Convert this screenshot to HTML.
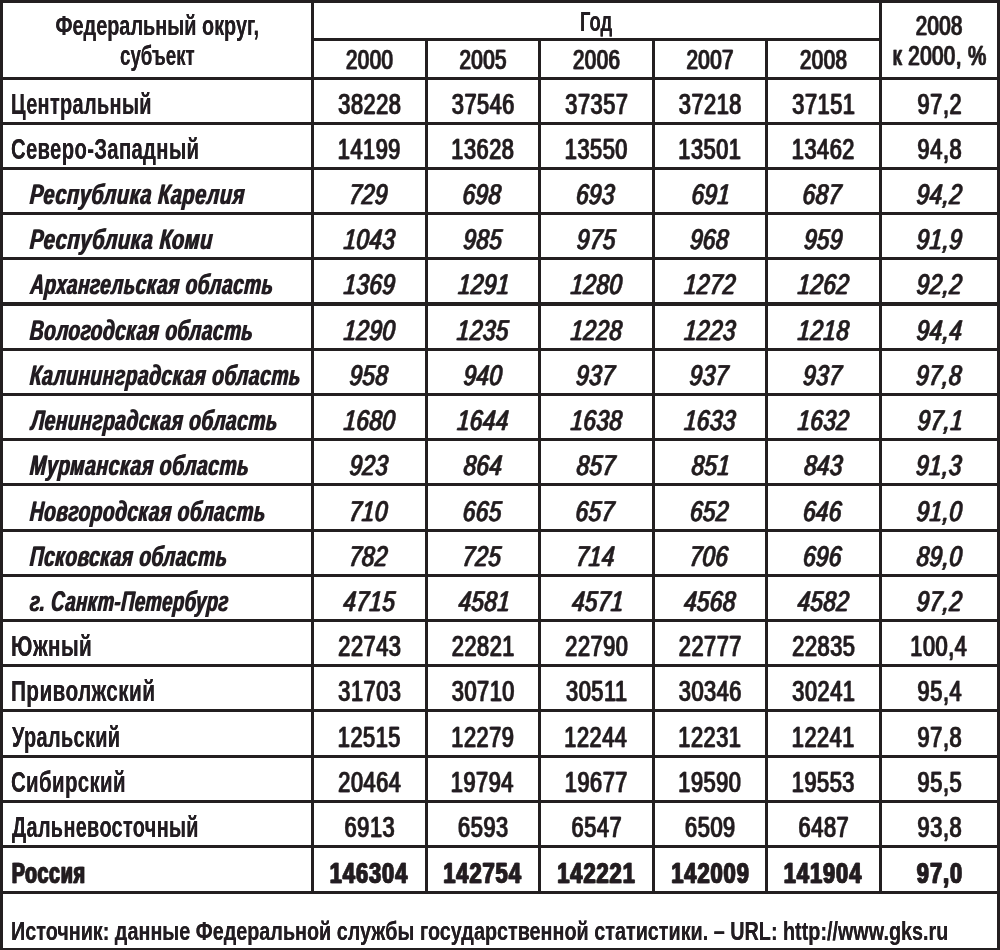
<!DOCTYPE html>
<html lang="ru"><head><meta charset="utf-8"><title>Численность населения по федеральным округам</title>
<style>html,body{margin:0;padding:0;background:#fff;width:1000px;height:950px;overflow:hidden}svg{display:block}</style>
</head><body>
<svg width="1000" height="950" viewBox="0 0 1000 950">
<g fill="#231f20">
<rect x="0" y="0" width="1000" height="3"/>
<rect x="0" y="0" width="3" height="950"/>
<rect x="997" y="0" width="3" height="950"/>
<rect x="0" y="948" width="1000" height="2"/>
<rect x="0" y="77" width="1000" height="3"/>
<rect x="0" y="122" width="1000" height="3"/>
<rect x="0" y="167" width="1000" height="3"/>
<rect x="0" y="212" width="1000" height="3"/>
<rect x="0" y="257" width="1000" height="3"/>
<rect x="0" y="302" width="1000" height="4"/>
<rect x="0" y="348" width="1000" height="3"/>
<rect x="0" y="393" width="1000" height="3"/>
<rect x="0" y="438" width="1000" height="3"/>
<rect x="0" y="483" width="1000" height="3"/>
<rect x="0" y="529" width="1000" height="3"/>
<rect x="0" y="574" width="1000" height="3"/>
<rect x="0" y="619" width="1000" height="3"/>
<rect x="0" y="664" width="1000" height="3"/>
<rect x="0" y="709" width="1000" height="3"/>
<rect x="0" y="755" width="1000" height="3"/>
<rect x="0" y="800" width="1000" height="3"/>
<rect x="0" y="845" width="1000" height="3"/>
<rect x="0" y="891" width="1000" height="3"/>
<rect x="311" y="0" width="3" height="894"/>
<rect x="425" y="38" width="3" height="856"/>
<rect x="538" y="38" width="3" height="856"/>
<rect x="652" y="38" width="3" height="856"/>
<rect x="765" y="38" width="3" height="856"/>
<rect x="879" y="0" width="3" height="894"/>
<rect x="311" y="38" width="570" height="3"/>
</g>
<g fill="#231f20" font-family='"Liberation Sans", sans-serif'>
<defs><filter id="th" x="-5%" y="-20%" width="110%" height="140%"><feOffset in="SourceGraphic" dx="0.3" dy="0" result="o"/><feMerge><feMergeNode in="SourceGraphic"/><feMergeNode in="o"/></feMerge></filter><filter id="thn" x="-5%" y="-20%" width="110%" height="140%"><feOffset in="SourceGraphic" dx="1.0" dy="0" result="o"/><feMerge><feMergeNode in="SourceGraphic"/><feMergeNode in="o"/></feMerge></filter><filter id="tnl" x="-5%" y="-20%" width="110%" height="140%"><feOffset in="SourceGraphic" dx="0.4" dy="0" result="o"/><feMerge><feMergeNode in="SourceGraphic"/><feMergeNode in="o"/></feMerge></filter><filter id="tnn" x="-5%" y="-20%" width="110%" height="140%"><feOffset in="SourceGraphic" dx="0.8" dy="0" result="o"/><feMerge><feMergeNode in="SourceGraphic"/><feMergeNode in="o"/></feMerge></filter><filter id="til" x="-5%" y="-20%" width="110%" height="140%"><feOffset in="SourceGraphic" dx="0.6" dy="0" result="o"/><feMerge><feMergeNode in="SourceGraphic"/><feMergeNode in="o"/></feMerge></filter><filter id="tinn" x="-5%" y="-20%" width="110%" height="140%"><feOffset in="SourceGraphic" dx="1.0" dy="0" result="o"/><feMerge><feMergeNode in="SourceGraphic"/><feMergeNode in="o"/></feMerge></filter><filter id="tbl" x="-5%" y="-20%" width="110%" height="140%"><feOffset in="SourceGraphic" dx="0.9" dy="0" result="o"/><feMerge><feMergeNode in="SourceGraphic"/><feMergeNode in="o"/></feMerge></filter><filter id="tbn" x="-5%" y="-20%" width="110%" height="140%"><feOffset in="SourceGraphic" dx="0.9" dy="0" result="o"/><feMerge><feMergeNode in="SourceGraphic"/><feMergeNode in="o"/></feMerge></filter><filter id="tf" x="-5%" y="-20%" width="110%" height="140%"><feOffset in="SourceGraphic" dx="0.3" dy="0" result="o"/><feMerge><feMergeNode in="SourceGraphic"/><feMergeNode in="o"/></feMerge></filter></defs>
<g filter="url(#th)">
<text transform="translate(55.50 34.70) scale(0.7369 1)" font-size="27" font-weight="bold" font-style="normal">Федеральный округ,</text>
<text transform="translate(120.00 64.80) scale(0.6931 1)" font-size="27" font-weight="bold" font-style="normal">субъект</text>
<text transform="translate(580.00 30.50) scale(0.6826 1)" font-size="27" font-weight="bold" font-style="normal">Год</text>
</g>
<g filter="url(#thn)">
<text transform="translate(345.49 68.80) scale(0.7600 1)" font-size="27" font-weight="normal" font-style="normal" letter-spacing="0.6" stroke="#231f20" stroke-width="0.5" stroke-linejoin="round">2000</text>
<text transform="translate(458.99 68.80) scale(0.7600 1)" font-size="27" font-weight="normal" font-style="normal" letter-spacing="0.6" stroke="#231f20" stroke-width="0.5" stroke-linejoin="round">2005</text>
<text transform="translate(572.49 68.80) scale(0.7600 1)" font-size="27" font-weight="normal" font-style="normal" letter-spacing="0.6" stroke="#231f20" stroke-width="0.5" stroke-linejoin="round">2006</text>
<text transform="translate(685.99 68.80) scale(0.7600 1)" font-size="27" font-weight="normal" font-style="normal" letter-spacing="0.6" stroke="#231f20" stroke-width="0.5" stroke-linejoin="round">2007</text>
<text transform="translate(799.49 68.80) scale(0.7600 1)" font-size="27" font-weight="normal" font-style="normal" letter-spacing="0.6" stroke="#231f20" stroke-width="0.5" stroke-linejoin="round">2008</text>
<text transform="translate(915.18 35.00) scale(0.7539 1)" font-size="27" font-weight="normal" font-style="normal" letter-spacing="0.6" stroke="#231f20" stroke-width="0.5" stroke-linejoin="round">2008</text>
<text transform="translate(892.19 64.80) scale(0.7600 1)" font-size="27" font-weight="normal" font-style="normal" letter-spacing="0.6" stroke="#231f20" stroke-width="0.5" stroke-linejoin="round">к 2000, %</text>
</g>
<g filter="url(#tnl)">
<text transform="translate(11.00 113.70) scale(0.6761 1)" font-size="29.5" font-weight="bold" font-style="normal" letter-spacing="0.5">Центральный</text>
<text transform="translate(11.00 158.50) scale(0.6873 1)" font-size="29.5" font-weight="bold" font-style="normal" letter-spacing="0.5">Северо-Западный</text>
<text transform="translate(11.00 655.60) scale(0.7028 1)" font-size="29.5" font-weight="bold" font-style="normal" letter-spacing="0.5">Южный</text>
<text transform="translate(11.00 700.60) scale(0.7062 1)" font-size="29.5" font-weight="bold" font-style="normal" letter-spacing="0.5">Приволжский</text>
<text transform="translate(12.00 746.60) scale(0.6760 1)" font-size="29.5" font-weight="bold" font-style="normal" letter-spacing="0.5">Уральский</text>
<text transform="translate(11.00 791.60) scale(0.6938 1)" font-size="29.5" font-weight="bold" font-style="normal" letter-spacing="0.5">Сибирский</text>
<text transform="translate(12.00 836.80) scale(0.6739 1)" font-size="29.5" font-weight="bold" font-style="normal" letter-spacing="0.5">Дальневосточный</text>
</g>
<g filter="url(#tnn)">
<text transform="translate(337.77 113.70) scale(0.7400 1)" font-size="29.3" font-weight="normal" font-style="normal" letter-spacing="0.8" stroke="#231f20" stroke-width="0.4" stroke-linejoin="round">38228</text>
<text transform="translate(451.27 113.70) scale(0.7400 1)" font-size="29.3" font-weight="normal" font-style="normal" letter-spacing="0.8" stroke="#231f20" stroke-width="0.4" stroke-linejoin="round">37546</text>
<text transform="translate(564.77 113.70) scale(0.7400 1)" font-size="29.3" font-weight="normal" font-style="normal" letter-spacing="0.8" stroke="#231f20" stroke-width="0.4" stroke-linejoin="round">37357</text>
<text transform="translate(678.27 113.70) scale(0.7400 1)" font-size="29.3" font-weight="normal" font-style="normal" letter-spacing="0.8" stroke="#231f20" stroke-width="0.4" stroke-linejoin="round">37218</text>
<text transform="translate(791.77 113.70) scale(0.7400 1)" font-size="29.3" font-weight="normal" font-style="normal" letter-spacing="0.8" stroke="#231f20" stroke-width="0.4" stroke-linejoin="round">37151</text>
<text transform="translate(917.12 113.70) scale(0.7400 1)" font-size="29.3" font-weight="normal" font-style="normal" letter-spacing="0.8" stroke="#231f20" stroke-width="0.4" stroke-linejoin="round">97,2</text>
<text transform="translate(337.27 158.50) scale(0.7400 1)" font-size="29.3" font-weight="normal" font-style="normal" letter-spacing="0.8" stroke="#231f20" stroke-width="0.4" stroke-linejoin="round">14199</text>
<text transform="translate(450.77 158.50) scale(0.7400 1)" font-size="29.3" font-weight="normal" font-style="normal" letter-spacing="0.8" stroke="#231f20" stroke-width="0.4" stroke-linejoin="round">13628</text>
<text transform="translate(564.27 158.50) scale(0.7400 1)" font-size="29.3" font-weight="normal" font-style="normal" letter-spacing="0.8" stroke="#231f20" stroke-width="0.4" stroke-linejoin="round">13550</text>
<text transform="translate(677.77 158.50) scale(0.7400 1)" font-size="29.3" font-weight="normal" font-style="normal" letter-spacing="0.8" stroke="#231f20" stroke-width="0.4" stroke-linejoin="round">13501</text>
<text transform="translate(791.27 158.50) scale(0.7400 1)" font-size="29.3" font-weight="normal" font-style="normal" letter-spacing="0.8" stroke="#231f20" stroke-width="0.4" stroke-linejoin="round">13462</text>
<text transform="translate(917.12 158.50) scale(0.7400 1)" font-size="29.3" font-weight="normal" font-style="normal" letter-spacing="0.8" stroke="#231f20" stroke-width="0.4" stroke-linejoin="round">94,8</text>
<text transform="translate(337.77 655.60) scale(0.7400 1)" font-size="29.3" font-weight="normal" font-style="normal" letter-spacing="0.8" stroke="#231f20" stroke-width="0.4" stroke-linejoin="round">22743</text>
<text transform="translate(451.27 655.60) scale(0.7400 1)" font-size="29.3" font-weight="normal" font-style="normal" letter-spacing="0.8" stroke="#231f20" stroke-width="0.4" stroke-linejoin="round">22821</text>
<text transform="translate(564.77 655.60) scale(0.7400 1)" font-size="29.3" font-weight="normal" font-style="normal" letter-spacing="0.8" stroke="#231f20" stroke-width="0.4" stroke-linejoin="round">22790</text>
<text transform="translate(678.27 655.60) scale(0.7400 1)" font-size="29.3" font-weight="normal" font-style="normal" letter-spacing="0.8" stroke="#231f20" stroke-width="0.4" stroke-linejoin="round">22777</text>
<text transform="translate(791.77 655.60) scale(0.7400 1)" font-size="29.3" font-weight="normal" font-style="normal" letter-spacing="0.8" stroke="#231f20" stroke-width="0.4" stroke-linejoin="round">22835</text>
<text transform="translate(909.79 655.60) scale(0.7400 1)" font-size="29.3" font-weight="normal" font-style="normal" letter-spacing="0.8" stroke="#231f20" stroke-width="0.4" stroke-linejoin="round">100,4</text>
<text transform="translate(337.77 700.60) scale(0.7400 1)" font-size="29.3" font-weight="normal" font-style="normal" letter-spacing="0.8" stroke="#231f20" stroke-width="0.4" stroke-linejoin="round">31703</text>
<text transform="translate(451.27 700.60) scale(0.7400 1)" font-size="29.3" font-weight="normal" font-style="normal" letter-spacing="0.8" stroke="#231f20" stroke-width="0.4" stroke-linejoin="round">30710</text>
<text transform="translate(565.57 700.60) scale(0.7400 1)" font-size="29.3" font-weight="normal" font-style="normal" letter-spacing="0.8" stroke="#231f20" stroke-width="0.4" stroke-linejoin="round">30511</text>
<text transform="translate(678.27 700.60) scale(0.7400 1)" font-size="29.3" font-weight="normal" font-style="normal" letter-spacing="0.8" stroke="#231f20" stroke-width="0.4" stroke-linejoin="round">30346</text>
<text transform="translate(791.77 700.60) scale(0.7400 1)" font-size="29.3" font-weight="normal" font-style="normal" letter-spacing="0.8" stroke="#231f20" stroke-width="0.4" stroke-linejoin="round">30241</text>
<text transform="translate(917.12 700.60) scale(0.7400 1)" font-size="29.3" font-weight="normal" font-style="normal" letter-spacing="0.8" stroke="#231f20" stroke-width="0.4" stroke-linejoin="round">95,4</text>
<text transform="translate(337.27 746.60) scale(0.7400 1)" font-size="29.3" font-weight="normal" font-style="normal" letter-spacing="0.8" stroke="#231f20" stroke-width="0.4" stroke-linejoin="round">12515</text>
<text transform="translate(450.77 746.60) scale(0.7400 1)" font-size="29.3" font-weight="normal" font-style="normal" letter-spacing="0.8" stroke="#231f20" stroke-width="0.4" stroke-linejoin="round">12279</text>
<text transform="translate(563.77 746.60) scale(0.7400 1)" font-size="29.3" font-weight="normal" font-style="normal" letter-spacing="0.8" stroke="#231f20" stroke-width="0.4" stroke-linejoin="round">12244</text>
<text transform="translate(677.77 746.60) scale(0.7400 1)" font-size="29.3" font-weight="normal" font-style="normal" letter-spacing="0.8" stroke="#231f20" stroke-width="0.4" stroke-linejoin="round">12231</text>
<text transform="translate(791.27 746.60) scale(0.7400 1)" font-size="29.3" font-weight="normal" font-style="normal" letter-spacing="0.8" stroke="#231f20" stroke-width="0.4" stroke-linejoin="round">12241</text>
<text transform="translate(917.12 746.60) scale(0.7400 1)" font-size="29.3" font-weight="normal" font-style="normal" letter-spacing="0.8" stroke="#231f20" stroke-width="0.4" stroke-linejoin="round">97,8</text>
<text transform="translate(337.77 791.60) scale(0.7400 1)" font-size="29.3" font-weight="normal" font-style="normal" letter-spacing="0.8" stroke="#231f20" stroke-width="0.4" stroke-linejoin="round">20464</text>
<text transform="translate(450.27 791.60) scale(0.7400 1)" font-size="29.3" font-weight="normal" font-style="normal" letter-spacing="0.8" stroke="#231f20" stroke-width="0.4" stroke-linejoin="round">19794</text>
<text transform="translate(564.27 791.60) scale(0.7400 1)" font-size="29.3" font-weight="normal" font-style="normal" letter-spacing="0.8" stroke="#231f20" stroke-width="0.4" stroke-linejoin="round">19677</text>
<text transform="translate(677.77 791.60) scale(0.7400 1)" font-size="29.3" font-weight="normal" font-style="normal" letter-spacing="0.8" stroke="#231f20" stroke-width="0.4" stroke-linejoin="round">19590</text>
<text transform="translate(791.27 791.60) scale(0.7400 1)" font-size="29.3" font-weight="normal" font-style="normal" letter-spacing="0.8" stroke="#231f20" stroke-width="0.4" stroke-linejoin="round">19553</text>
<text transform="translate(917.12 791.60) scale(0.7400 1)" font-size="29.3" font-weight="normal" font-style="normal" letter-spacing="0.8" stroke="#231f20" stroke-width="0.4" stroke-linejoin="round">95,5</text>
<text transform="translate(344.09 836.80) scale(0.7400 1)" font-size="29.3" font-weight="normal" font-style="normal" letter-spacing="0.8" stroke="#231f20" stroke-width="0.4" stroke-linejoin="round">6913</text>
<text transform="translate(457.59 836.80) scale(0.7400 1)" font-size="29.3" font-weight="normal" font-style="normal" letter-spacing="0.8" stroke="#231f20" stroke-width="0.4" stroke-linejoin="round">6593</text>
<text transform="translate(571.09 836.80) scale(0.7400 1)" font-size="29.3" font-weight="normal" font-style="normal" letter-spacing="0.8" stroke="#231f20" stroke-width="0.4" stroke-linejoin="round">6547</text>
<text transform="translate(684.59 836.80) scale(0.7400 1)" font-size="29.3" font-weight="normal" font-style="normal" letter-spacing="0.8" stroke="#231f20" stroke-width="0.4" stroke-linejoin="round">6509</text>
<text transform="translate(798.09 836.80) scale(0.7400 1)" font-size="29.3" font-weight="normal" font-style="normal" letter-spacing="0.8" stroke="#231f20" stroke-width="0.4" stroke-linejoin="round">6487</text>
<text transform="translate(917.12 836.80) scale(0.7400 1)" font-size="29.3" font-weight="normal" font-style="normal" letter-spacing="0.8" stroke="#231f20" stroke-width="0.4" stroke-linejoin="round">93,8</text>
</g>
<g filter="url(#til)">
<text transform="translate(29.00 203.70) skewX(-4) scale(0.6970 1)" font-size="28.5" font-weight="bold" font-style="italic" letter-spacing="0.8">Республика Карелия</text>
<text transform="translate(29.00 248.60) skewX(-4) scale(0.7052 1)" font-size="28.5" font-weight="bold" font-style="italic" letter-spacing="0.8">Республика Коми</text>
<text transform="translate(29.40 294.10) skewX(-4) scale(0.6652 1)" font-size="28.5" font-weight="bold" font-style="italic" letter-spacing="0.8">Архангельская область</text>
<text transform="translate(29.00 339.60) skewX(-4) scale(0.6672 1)" font-size="28.5" font-weight="bold" font-style="italic" letter-spacing="0.8">Вологодская область</text>
<text transform="translate(29.00 384.80) skewX(-4) scale(0.6730 1)" font-size="28.5" font-weight="bold" font-style="italic" letter-spacing="0.8">Калининградская область</text>
<text transform="translate(30.16 429.50) skewX(-4) scale(0.6714 1)" font-size="28.5" font-weight="bold" font-style="italic" letter-spacing="0.8">Ленинградская область</text>
<text transform="translate(29.00 474.70) skewX(-4) scale(0.6795 1)" font-size="28.5" font-weight="bold" font-style="italic" letter-spacing="0.8">Мурманская область</text>
<text transform="translate(29.00 520.50) skewX(-4) scale(0.6684 1)" font-size="28.5" font-weight="bold" font-style="italic" letter-spacing="0.8">Новгородская область</text>
<text transform="translate(29.00 565.70) skewX(-4) scale(0.6677 1)" font-size="28.5" font-weight="bold" font-style="italic" letter-spacing="0.8">Псковская область</text>
<text transform="translate(29.00 610.60) skewX(-4) scale(0.6447 1)" font-size="28.5" font-weight="bold" font-style="italic" letter-spacing="0.8">г. Санкт-Петербург</text>
</g>
<g filter="url(#tinn)">
<text transform="translate(348.14 203.70) skewX(-4) scale(0.7800 1)" font-size="28.5" font-weight="normal" font-style="italic" letter-spacing="0.8" stroke="#231f20" stroke-width="0.5" stroke-linejoin="round">729</text>
<text transform="translate(461.64 203.70) skewX(-4) scale(0.7800 1)" font-size="28.5" font-weight="normal" font-style="italic" letter-spacing="0.8" stroke="#231f20" stroke-width="0.5" stroke-linejoin="round">698</text>
<text transform="translate(575.14 203.70) skewX(-4) scale(0.7800 1)" font-size="28.5" font-weight="normal" font-style="italic" letter-spacing="0.8" stroke="#231f20" stroke-width="0.5" stroke-linejoin="round">693</text>
<text transform="translate(690.64 203.70) skewX(-4) scale(0.7800 1)" font-size="28.5" font-weight="normal" font-style="italic" letter-spacing="0.8" stroke="#231f20" stroke-width="0.5" stroke-linejoin="round">691</text>
<text transform="translate(801.79 203.70) skewX(-4) scale(0.7800 1)" font-size="28.5" font-weight="normal" font-style="italic" letter-spacing="0.8" stroke="#231f20" stroke-width="0.5" stroke-linejoin="round">687</text>
<text transform="translate(915.74 203.70) skewX(-4) scale(0.7800 1)" font-size="28.5" font-weight="normal" font-style="italic" letter-spacing="0.8" stroke="#231f20" stroke-width="0.5" stroke-linejoin="round">94,2</text>
<text transform="translate(342.64 248.60) skewX(-4) scale(0.7800 1)" font-size="28.5" font-weight="normal" font-style="italic" letter-spacing="0.8" stroke="#231f20" stroke-width="0.5" stroke-linejoin="round">1043</text>
<text transform="translate(462.61 248.60) skewX(-4) scale(0.7800 1)" font-size="28.5" font-weight="normal" font-style="italic" letter-spacing="0.8" stroke="#231f20" stroke-width="0.5" stroke-linejoin="round">985</text>
<text transform="translate(576.11 248.60) skewX(-4) scale(0.7800 1)" font-size="28.5" font-weight="normal" font-style="italic" letter-spacing="0.8" stroke="#231f20" stroke-width="0.5" stroke-linejoin="round">975</text>
<text transform="translate(689.14 248.60) skewX(-4) scale(0.7800 1)" font-size="28.5" font-weight="normal" font-style="italic" letter-spacing="0.8" stroke="#231f20" stroke-width="0.5" stroke-linejoin="round">968</text>
<text transform="translate(803.14 248.60) skewX(-4) scale(0.7800 1)" font-size="28.5" font-weight="normal" font-style="italic" letter-spacing="0.8" stroke="#231f20" stroke-width="0.5" stroke-linejoin="round">959</text>
<text transform="translate(915.74 248.60) skewX(-4) scale(0.7800 1)" font-size="28.5" font-weight="normal" font-style="italic" letter-spacing="0.8" stroke="#231f20" stroke-width="0.5" stroke-linejoin="round">91,9</text>
<text transform="translate(342.64 294.10) skewX(-4) scale(0.7800 1)" font-size="28.5" font-weight="normal" font-style="italic" letter-spacing="0.8" stroke="#231f20" stroke-width="0.5" stroke-linejoin="round">1369</text>
<text transform="translate(457.14 294.10) skewX(-4) scale(0.7800 1)" font-size="28.5" font-weight="normal" font-style="italic" letter-spacing="0.8" stroke="#231f20" stroke-width="0.5" stroke-linejoin="round">1291</text>
<text transform="translate(569.64 294.10) skewX(-4) scale(0.7800 1)" font-size="28.5" font-weight="normal" font-style="italic" letter-spacing="0.8" stroke="#231f20" stroke-width="0.5" stroke-linejoin="round">1280</text>
<text transform="translate(683.14 294.10) skewX(-4) scale(0.7800 1)" font-size="28.5" font-weight="normal" font-style="italic" letter-spacing="0.8" stroke="#231f20" stroke-width="0.5" stroke-linejoin="round">1272</text>
<text transform="translate(796.64 294.10) skewX(-4) scale(0.7800 1)" font-size="28.5" font-weight="normal" font-style="italic" letter-spacing="0.8" stroke="#231f20" stroke-width="0.5" stroke-linejoin="round">1262</text>
<text transform="translate(915.74 294.10) skewX(-4) scale(0.7800 1)" font-size="28.5" font-weight="normal" font-style="italic" letter-spacing="0.8" stroke="#231f20" stroke-width="0.5" stroke-linejoin="round">92,2</text>
<text transform="translate(342.64 339.60) skewX(-4) scale(0.7800 1)" font-size="28.5" font-weight="normal" font-style="italic" letter-spacing="0.8" stroke="#231f20" stroke-width="0.5" stroke-linejoin="round">1290</text>
<text transform="translate(456.11 339.60) skewX(-4) scale(0.7800 1)" font-size="28.5" font-weight="normal" font-style="italic" letter-spacing="0.8" stroke="#231f20" stroke-width="0.5" stroke-linejoin="round">1235</text>
<text transform="translate(569.64 339.60) skewX(-4) scale(0.7800 1)" font-size="28.5" font-weight="normal" font-style="italic" letter-spacing="0.8" stroke="#231f20" stroke-width="0.5" stroke-linejoin="round">1228</text>
<text transform="translate(683.14 339.60) skewX(-4) scale(0.7800 1)" font-size="28.5" font-weight="normal" font-style="italic" letter-spacing="0.8" stroke="#231f20" stroke-width="0.5" stroke-linejoin="round">1223</text>
<text transform="translate(796.64 339.60) skewX(-4) scale(0.7800 1)" font-size="28.5" font-weight="normal" font-style="italic" letter-spacing="0.8" stroke="#231f20" stroke-width="0.5" stroke-linejoin="round">1218</text>
<text transform="translate(915.74 339.60) skewX(-4) scale(0.7800 1)" font-size="28.5" font-weight="normal" font-style="italic" letter-spacing="0.8" stroke="#231f20" stroke-width="0.5" stroke-linejoin="round">94,4</text>
<text transform="translate(348.64 384.80) skewX(-4) scale(0.7800 1)" font-size="28.5" font-weight="normal" font-style="italic" letter-spacing="0.8" stroke="#231f20" stroke-width="0.5" stroke-linejoin="round">958</text>
<text transform="translate(462.64 384.80) skewX(-4) scale(0.7800 1)" font-size="28.5" font-weight="normal" font-style="italic" letter-spacing="0.8" stroke="#231f20" stroke-width="0.5" stroke-linejoin="round">940</text>
<text transform="translate(575.29 384.80) skewX(-4) scale(0.7800 1)" font-size="28.5" font-weight="normal" font-style="italic" letter-spacing="0.8" stroke="#231f20" stroke-width="0.5" stroke-linejoin="round">937</text>
<text transform="translate(688.79 384.80) skewX(-4) scale(0.7800 1)" font-size="28.5" font-weight="normal" font-style="italic" letter-spacing="0.8" stroke="#231f20" stroke-width="0.5" stroke-linejoin="round">937</text>
<text transform="translate(802.29 384.80) skewX(-4) scale(0.7800 1)" font-size="28.5" font-weight="normal" font-style="italic" letter-spacing="0.8" stroke="#231f20" stroke-width="0.5" stroke-linejoin="round">937</text>
<text transform="translate(915.24 384.80) skewX(-4) scale(0.7800 1)" font-size="28.5" font-weight="normal" font-style="italic" letter-spacing="0.8" stroke="#231f20" stroke-width="0.5" stroke-linejoin="round">97,8</text>
<text transform="translate(342.64 429.50) skewX(-4) scale(0.7800 1)" font-size="28.5" font-weight="normal" font-style="italic" letter-spacing="0.8" stroke="#231f20" stroke-width="0.5" stroke-linejoin="round">1680</text>
<text transform="translate(456.14 429.50) skewX(-4) scale(0.7800 1)" font-size="28.5" font-weight="normal" font-style="italic" letter-spacing="0.8" stroke="#231f20" stroke-width="0.5" stroke-linejoin="round">1644</text>
<text transform="translate(569.64 429.50) skewX(-4) scale(0.7800 1)" font-size="28.5" font-weight="normal" font-style="italic" letter-spacing="0.8" stroke="#231f20" stroke-width="0.5" stroke-linejoin="round">1638</text>
<text transform="translate(683.14 429.50) skewX(-4) scale(0.7800 1)" font-size="28.5" font-weight="normal" font-style="italic" letter-spacing="0.8" stroke="#231f20" stroke-width="0.5" stroke-linejoin="round">1633</text>
<text transform="translate(796.64 429.50) skewX(-4) scale(0.7800 1)" font-size="28.5" font-weight="normal" font-style="italic" letter-spacing="0.8" stroke="#231f20" stroke-width="0.5" stroke-linejoin="round">1632</text>
<text transform="translate(916.74 429.50) skewX(-4) scale(0.7800 1)" font-size="28.5" font-weight="normal" font-style="italic" letter-spacing="0.8" stroke="#231f20" stroke-width="0.5" stroke-linejoin="round">97,1</text>
<text transform="translate(348.64 474.70) skewX(-4) scale(0.7800 1)" font-size="28.5" font-weight="normal" font-style="italic" letter-spacing="0.8" stroke="#231f20" stroke-width="0.5" stroke-linejoin="round">923</text>
<text transform="translate(462.64 474.70) skewX(-4) scale(0.7800 1)" font-size="28.5" font-weight="normal" font-style="italic" letter-spacing="0.8" stroke="#231f20" stroke-width="0.5" stroke-linejoin="round">864</text>
<text transform="translate(575.79 474.70) skewX(-4) scale(0.7800 1)" font-size="28.5" font-weight="normal" font-style="italic" letter-spacing="0.8" stroke="#231f20" stroke-width="0.5" stroke-linejoin="round">857</text>
<text transform="translate(690.64 474.70) skewX(-4) scale(0.7800 1)" font-size="28.5" font-weight="normal" font-style="italic" letter-spacing="0.8" stroke="#231f20" stroke-width="0.5" stroke-linejoin="round">851</text>
<text transform="translate(803.14 474.70) skewX(-4) scale(0.7800 1)" font-size="28.5" font-weight="normal" font-style="italic" letter-spacing="0.8" stroke="#231f20" stroke-width="0.5" stroke-linejoin="round">843</text>
<text transform="translate(915.24 474.70) skewX(-4) scale(0.7800 1)" font-size="28.5" font-weight="normal" font-style="italic" letter-spacing="0.8" stroke="#231f20" stroke-width="0.5" stroke-linejoin="round">91,3</text>
<text transform="translate(348.14 520.50) skewX(-4) scale(0.7800 1)" font-size="28.5" font-weight="normal" font-style="italic" letter-spacing="0.8" stroke="#231f20" stroke-width="0.5" stroke-linejoin="round">710</text>
<text transform="translate(462.11 520.50) skewX(-4) scale(0.7800 1)" font-size="28.5" font-weight="normal" font-style="italic" letter-spacing="0.8" stroke="#231f20" stroke-width="0.5" stroke-linejoin="round">665</text>
<text transform="translate(574.79 520.50) skewX(-4) scale(0.7800 1)" font-size="28.5" font-weight="normal" font-style="italic" letter-spacing="0.8" stroke="#231f20" stroke-width="0.5" stroke-linejoin="round">657</text>
<text transform="translate(689.14 520.50) skewX(-4) scale(0.7800 1)" font-size="28.5" font-weight="normal" font-style="italic" letter-spacing="0.8" stroke="#231f20" stroke-width="0.5" stroke-linejoin="round">652</text>
<text transform="translate(802.13 520.50) skewX(-4) scale(0.7800 1)" font-size="28.5" font-weight="normal" font-style="italic" letter-spacing="0.8" stroke="#231f20" stroke-width="0.5" stroke-linejoin="round">646</text>
<text transform="translate(915.74 520.50) skewX(-4) scale(0.7800 1)" font-size="28.5" font-weight="normal" font-style="italic" letter-spacing="0.8" stroke="#231f20" stroke-width="0.5" stroke-linejoin="round">91,0</text>
<text transform="translate(348.14 565.70) skewX(-4) scale(0.7800 1)" font-size="28.5" font-weight="normal" font-style="italic" letter-spacing="0.8" stroke="#231f20" stroke-width="0.5" stroke-linejoin="round">782</text>
<text transform="translate(461.61 565.70) skewX(-4) scale(0.7800 1)" font-size="28.5" font-weight="normal" font-style="italic" letter-spacing="0.8" stroke="#231f20" stroke-width="0.5" stroke-linejoin="round">725</text>
<text transform="translate(575.14 565.70) skewX(-4) scale(0.7800 1)" font-size="28.5" font-weight="normal" font-style="italic" letter-spacing="0.8" stroke="#231f20" stroke-width="0.5" stroke-linejoin="round">714</text>
<text transform="translate(688.63 565.70) skewX(-4) scale(0.7800 1)" font-size="28.5" font-weight="normal" font-style="italic" letter-spacing="0.8" stroke="#231f20" stroke-width="0.5" stroke-linejoin="round">706</text>
<text transform="translate(802.13 565.70) skewX(-4) scale(0.7800 1)" font-size="28.5" font-weight="normal" font-style="italic" letter-spacing="0.8" stroke="#231f20" stroke-width="0.5" stroke-linejoin="round">696</text>
<text transform="translate(915.74 565.70) skewX(-4) scale(0.7800 1)" font-size="28.5" font-weight="normal" font-style="italic" letter-spacing="0.8" stroke="#231f20" stroke-width="0.5" stroke-linejoin="round">89,0</text>
<text transform="translate(342.61 610.60) skewX(-4) scale(0.7800 1)" font-size="28.5" font-weight="normal" font-style="italic" letter-spacing="0.8" stroke="#231f20" stroke-width="0.5" stroke-linejoin="round">4715</text>
<text transform="translate(457.64 610.60) skewX(-4) scale(0.7800 1)" font-size="28.5" font-weight="normal" font-style="italic" letter-spacing="0.8" stroke="#231f20" stroke-width="0.5" stroke-linejoin="round">4581</text>
<text transform="translate(571.14 610.60) skewX(-4) scale(0.7800 1)" font-size="28.5" font-weight="normal" font-style="italic" letter-spacing="0.8" stroke="#231f20" stroke-width="0.5" stroke-linejoin="round">4571</text>
<text transform="translate(683.14 610.60) skewX(-4) scale(0.7800 1)" font-size="28.5" font-weight="normal" font-style="italic" letter-spacing="0.8" stroke="#231f20" stroke-width="0.5" stroke-linejoin="round">4568</text>
<text transform="translate(796.64 610.60) skewX(-4) scale(0.7800 1)" font-size="28.5" font-weight="normal" font-style="italic" letter-spacing="0.8" stroke="#231f20" stroke-width="0.5" stroke-linejoin="round">4582</text>
<text transform="translate(915.74 610.60) skewX(-4) scale(0.7800 1)" font-size="28.5" font-weight="normal" font-style="italic" letter-spacing="0.8" stroke="#231f20" stroke-width="0.5" stroke-linejoin="round">97,2</text>
</g>
<g filter="url(#tbl)">
<text transform="translate(11.23 882.70) scale(0.6670 1)" font-size="29.5" font-weight="bold" font-style="normal" letter-spacing="1.0" stroke="#231f20" stroke-width="0.7" stroke-linejoin="round">Россия</text>
</g>
<g filter="url(#tbn)">
<text transform="translate(329.22 882.70) scale(0.7400 1)" font-size="29.5" font-weight="bold" font-style="normal" letter-spacing="1.3" stroke="#231f20" stroke-width="0.7" stroke-linejoin="round">146304</text>
<text transform="translate(442.72 882.70) scale(0.7400 1)" font-size="29.5" font-weight="bold" font-style="normal" letter-spacing="1.3" stroke="#231f20" stroke-width="0.7" stroke-linejoin="round">142754</text>
<text transform="translate(556.72 882.70) scale(0.7400 1)" font-size="29.5" font-weight="bold" font-style="normal" letter-spacing="1.3" stroke="#231f20" stroke-width="0.7" stroke-linejoin="round">142221</text>
<text transform="translate(670.72 882.70) scale(0.7400 1)" font-size="29.5" font-weight="bold" font-style="normal" letter-spacing="1.3" stroke="#231f20" stroke-width="0.7" stroke-linejoin="round">142009</text>
<text transform="translate(783.22 882.70) scale(0.7400 1)" font-size="29.5" font-weight="bold" font-style="normal" letter-spacing="1.3" stroke="#231f20" stroke-width="0.7" stroke-linejoin="round">141904</text>
<text transform="translate(916.37 882.70) scale(0.7400 1)" font-size="29.5" font-weight="bold" font-style="normal" letter-spacing="1.3" stroke="#231f20" stroke-width="0.7" stroke-linejoin="round">97,0</text>
</g>
<g filter="url(#tf)">
<text transform="translate(11.00 939.60) scale(0.7734 1)" font-size="25.6" font-weight="bold" font-style="normal">Источник: данные Федеральной службы государственной статистики. – URL: http://www.gks.ru</text>
</g>
</g>
</svg>
</body></html>
